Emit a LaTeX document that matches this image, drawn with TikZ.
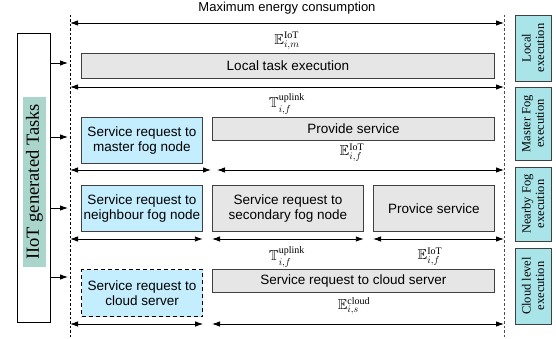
\documentclass[tikz,border=0pt]{standalone}
\usepackage{amsmath,amssymb}
\usepackage{fontspec}
\setmainfont{Liberation Serif}
\setsansfont{Liberation Sans}
\usetikzlibrary{arrows.meta,positioning}

\definecolor{taskgreen}{HTML}{A9D5CB}
\definecolor{levelcyan}{HTML}{A8E4E8}
\definecolor{reqblue}{HTML}{C4EDFD}
\definecolor{boxgray}{HTML}{E6E6E6}

\tikzset{
  phase/.style={draw=black!75, fill=boxgray, line width=0.8pt, inner sep=0pt,
    font=\sffamily\fontsize{13.5}{15.6}\selectfont, align=center, anchor=north west},
  request/.style={phase, fill=reqblue},
  level/.style={draw=black!75, fill=levelcyan, line width=0.8pt, rotate=90, inner sep=0pt,
    minimum height=36pt, font=\fontsize{12.5}{13.5}\selectfont, align=center},
  cost/.style={font=\fontsize{14.4}{16}\selectfont, inner sep=0pt},
  span/.style={<->, line width=0.9pt},
  bound/.style={dash pattern=on 2.5pt off 2pt, line width=0.8pt},
}

\begin{document}
\begin{tikzpicture}[x=1pt,y=-1pt,>={Latex[length=8pt,width=5.5pt]}]
  \useasboundingbox (0,0) rectangle (556,339);

  % time line bounds
  \coordinate (topL) at (70,15);
  \coordinate (botL) at (70,339);
  \coordinate (topR) at (504,15);
  \coordinate (botR) at (504,339);
  \draw[bound] (topL) -- (botL);
  \draw[bound, black!70] (topR) -- (botR);

  \node[font=\sffamily\fontsize{13}{15}\selectfont] (maxenergy) at (287,8) {Maximum energy consumption};
  \draw[span] (topL |- 0,23) -- (topR |- 0,23);

  % local execution
  \node[cost] (elocal) at (287,41) {$\mathbb{E}^{\mathrm{IoT}}_{i,m}$};
  \node[phase, minimum width=413pt, minimum height=25pt] (local) at (81,53) {Local task execution};
  \draw[span] (topL |- 0,87) -- (topR |- 0,87);

  % master fog
  \node[cost] (tupmaster) at (287,104) {$\mathbb{T}^{\mathrm{uplink}}_{i,f}$};
  \node[request, minimum width=121pt, minimum height=46pt] (master) at (81,117) {Service request to\\master fog node};
  \node[phase, minimum width=282pt, minimum height=23pt] (provide) at (212,117) {Provide service};
  \node[cost] (eiotmaster) at (352,153) {$\mathbb{E}^{\mathrm{IoT}}_{i,f}$};
  \draw[span] (topL |- 0,170) -- (211,170);
  \draw[span] (217,170) -- (topR |- 0,170);

  % nearby fog
  \node[request, minimum width=121pt, minimum height=46pt] (neighbour) at (81,185) {Service request to\\neighbour fog node};
  \node[phase, minimum width=151pt, minimum height=46pt] (secondary) at (212,185) {Service request to\\secondary fog node};
  \node[phase, minimum width=121pt, minimum height=46pt] (provice) at (373,185) {Provice service};
  \draw[span] (topL |- 0,239) -- (neighbour.east |- 0,239);
  \draw[span] (secondary.west |- 0,239) -- (secondary.east |- 0,239);
  \draw[span] (provice.west |- 0,239) -- (topR |- 0,239);
  \node[cost] (tupnearby) at (287,257) {$\mathbb{T}^{\mathrm{uplink}}_{i,f}$};
  \node[cost] (eiotnearby) at (430,257) {$\mathbb{E}^{\mathrm{IoT}}_{i,f}$};

  % cloud
  \node[request, draw=black, line width=1.2pt, dash pattern=on 4pt off 3pt, minimum width=121pt, minimum height=47pt] (cloudreq) at (81,269) {Service request to\\cloud server};
  \node[phase, minimum width=282pt, minimum height=23pt] (cloudsrv) at (212,269) {Service request to cloud server};
  \node[cost] (ecloud) at (354,306) {$\mathbb{E}^{\mathrm{cloud}}_{i,s}$};
  \draw[span] (topL |- 0,324) -- (cloudreq.east |- 0,324);
  \draw[span] (cloudsrv.west |- 0,324) -- (topR |- 0,324);

  % task source
  \node[draw, fill=white, line width=0.8pt, minimum width=33pt, minimum height=289pt] (tasks) at (33.5,177.5) {};
  \node[fill=taskgreen, rotate=90, inner sep=0pt, minimum width=170pt, minimum height=23pt,
    font=\fontsize{18.5}{20}\selectfont] (tasklabel) at (34.5,182) {IIoT generated Tasks};
  \foreach \y in {63,137,208,277}
    \draw[->, line width=0.9pt] (tasks.east |- 0,\y) -- ([xshift=-2pt]topL |- 0,\y);

  % execution levels
  \node[level, minimum width=66pt] (lvlocal) at (533,48) {Local\\execution};
  \node[level, minimum width=73pt] (lvmaster) at (533,123.5) {Master Fog\\execution};
  \node[level, minimum width=74pt] (lvnearby) at (533,204) {Nearby Fog\\execution};
  \node[level, minimum width=76pt] (lvcloud) at (533,286) {Cloud level\\execution};
\end{tikzpicture}
\end{document}
